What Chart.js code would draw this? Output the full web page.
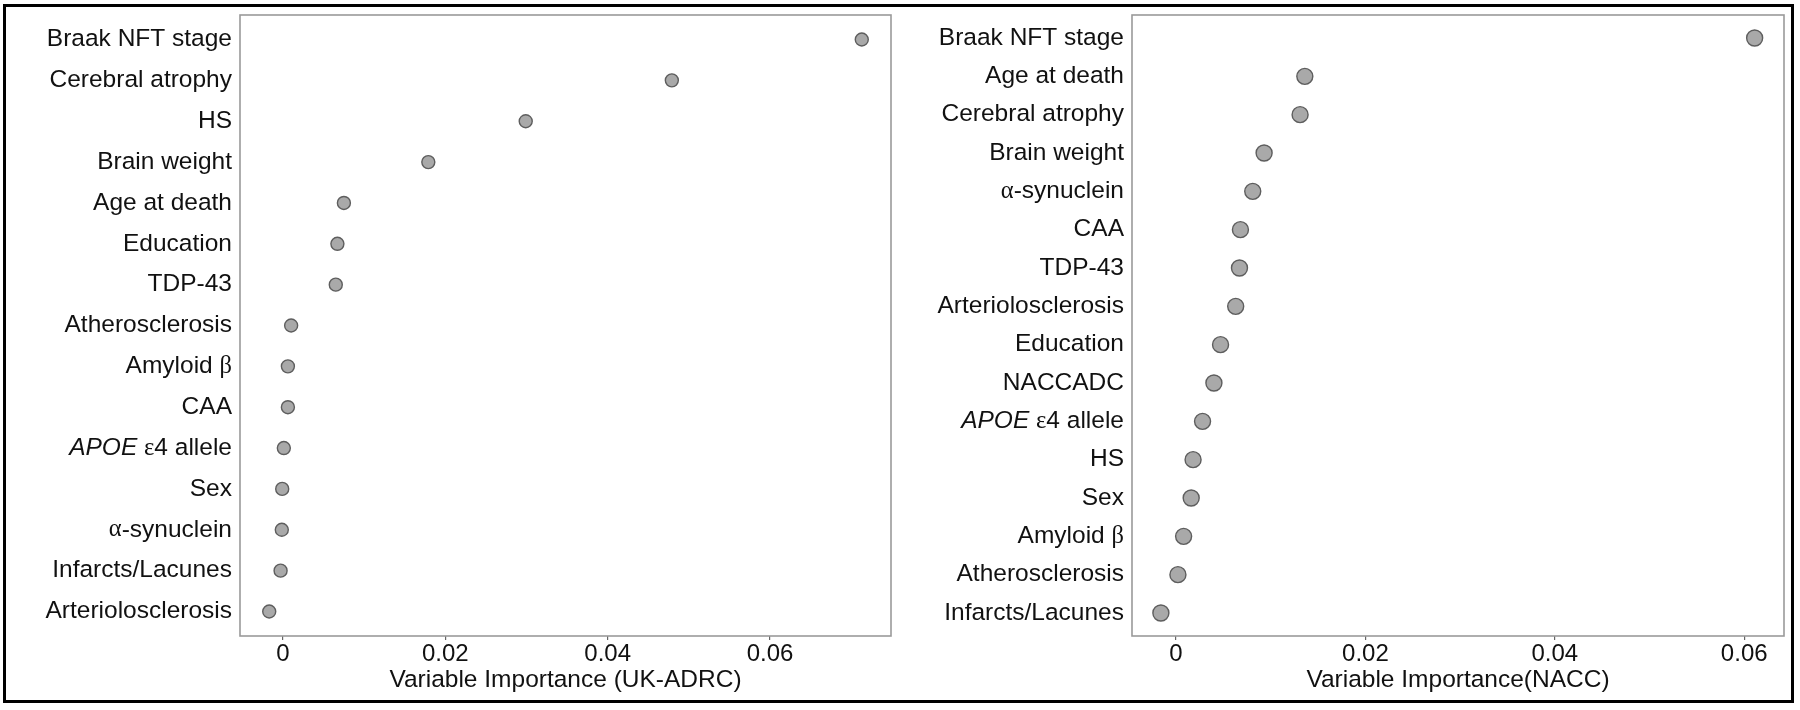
<!DOCTYPE html>
<html lang="en">
<head>
    <meta charset="UTF-8">
    <title>Variable Importance</title>
    <style>
        body {
            margin: 0;
            background: #fff;
            width: 1800px;
            height: 710px;
            position: relative;
            overflow: hidden;
        }
        #frame {
            position: absolute;
            left: 3px;
            top: 4px;
            width: 1791px;
            height: 699px;
            box-sizing: border-box;
            border: 3px solid #000;
        }
        .panel {
            position: absolute;
            top: 0;
            width: 900px;
            height: 710px;
        }
        #left { left: 0; }
        #right { left: 900px; }
    </style>
    <script src="https://cdn.jsdelivr.net/npm/chart.js"></script>
</head>
<body>
    <div id="frame"></div>
    <div class="panel" id="left"><canvas id="ukChart"></canvas></div>
    <div class="panel" id="right"><canvas id="naccChart"></canvas></div>
    <script>
        // UK-ADRC panel (top to bottom)
        const ukLabels = ['Braak NFT stage', 'Cerebral atrophy', 'HS', 'Brain weight', 'Age at death',
            'Education', 'TDP-43', 'Atherosclerosis', 'Amyloid β', 'CAA', 'APOE ε4 allele', 'Sex',
            'α-synuclein', 'Infarcts/Lacunes', 'Arteriolosclerosis'];
        const ukValues = [0.0713, 0.0479, 0.0299, 0.0179, 0.0075, 0.0067, 0.0065, 0.0010, 0.0006,
            0.0006, 0.0001, -0.0001, -0.00015, -0.0003, -0.0017];

        // NACC panel (top to bottom)
        const naccLabels = ['Braak NFT stage', 'Age at death', 'Cerebral atrophy', 'Brain weight', 'α-synuclein',
            'CAA', 'TDP-43', 'Arteriolosclerosis', 'Education', 'NACCADC', 'APOE ε4 allele', 'HS', 'Sex',
            'Amyloid β', 'Atherosclerosis', 'Infarcts/Lacunes'];
        const naccValues = [0.0611, 0.0136, 0.0131, 0.0093, 0.0081, 0.0068, 0.0067, 0.0063, 0.0047,
            0.0040, 0.0028, 0.0018, 0.0016, 0.0008, 0.0002, -0.0016];

        const xTicks = [0, 0.02, 0.04, 0.06];
        const xTickLabels = ['0', '0.02', '0.04', '0.06'];

        const FONT = '"Liberation Sans", Arial, sans-serif';
        const SERIF = '"Liberation Serif", "Times New Roman", serif';
        const TEXT = '#111';

        // box round the plot area
        const boxPlugin = {
            id: 'box',
            beforeDatasetsDraw(chart) {
                const a = chart.chartArea;
                const c = chart.ctx;
                c.save();
                c.strokeStyle = '#9a9a9a';
                c.lineWidth = 1.6;
                c.strokeRect(a.left, a.top, a.right - a.left, a.bottom - a.top);
                c.restore();
            }
        };

        // y labels: APOE in italics, greek letters in a serif face
        function drawLabel(c, text, xRight, y, size) {
            const parts = [];
            let rest = text;
            if (rest.startsWith('APOE')) {
                parts.push({ t: 'APOE', f: 'italic ' + size + 'px ' + FONT });
                rest = rest.slice(4);
            }
            let buf = '';
            for (const ch of rest) {
                if ('αβε'.includes(ch)) {
                    if (buf) parts.push({ t: buf, f: size + 'px ' + FONT });
                    buf = '';
                    parts.push({ t: ch, f: size + 'px ' + SERIF });
                } else {
                    buf += ch;
                }
            }
            if (buf) parts.push({ t: buf, f: size + 'px ' + FONT });

            let total = 0;
            parts.forEach(p => { c.font = p.f; p.w = c.measureText(p.t).width; total += p.w; });
            let x = xRight - total;
            parts.forEach(p => {
                c.font = p.f;
                c.fillText(p.t, x, y);
                x += p.w;
            });
        }

        const labelPlugin = {
            id: 'rowLabels',
            afterDraw(chart) {
                const labels = chart.options.plugins.rowLabels.labels;
                const yScale = chart.scales.y;
                const c = chart.ctx;
                c.save();
                c.fillStyle = TEXT;
                c.textBaseline = 'middle';
                labels.forEach((lab, i) => {
                    drawLabel(c, lab, chart.chartArea.left - 8, yScale.getPixelForValue(i + 1), 24.5);
                });
                c.restore();
            }
        };

        function makeChart(id, labels, values, xmin, xmax, yWidth, rightPad, radius, title) {
            const points = values.map((v, i) => ({ x: v, y: i + 1 }));
            return new Chart(document.getElementById(id), {
                type: 'scatter',
                data: {
                    datasets: [{
                        data: points,
                        pointRadius: radius,
                        pointHoverRadius: radius,
                        backgroundColor: '#a9a9a9',
                        borderColor: '#5e5e5e',
                        borderWidth: 1.4
                    }]
                },
                options: {
                    responsive: true,
                    maintainAspectRatio: false,
                    animation: false,
                    layout: { padding: { top: 15, right: rightPad, bottom: 0, left: 0 } },
                    plugins: {
                        legend: { display: false },
                        tooltip: { enabled: false },
                        rowLabels: { labels: labels }
                    },
                    scales: {
                        x: {
                            type: 'linear',
                            min: xmin,
                            max: xmax,
                            afterBuildTicks: s => { s.ticks = xTicks.map(v => ({ value: v })); },
                            afterFit: s => { s.height = 74; },
                            ticks: {
                                callback: (v) => {
                                    const k = xTicks.findIndex(t => Math.abs(t - v) < 1e-9);
                                    return k >= 0 ? xTickLabels[k] : '';
                                },
                                font: { family: FONT, size: 24 },
                                color: TEXT,
                                padding: 0,
                                maxRotation: 0
                            },
                            grid: {
                                drawOnChartArea: false,
                                tickLength: 4,
                                color: '#666',
                                lineWidth: 1.2
                            },
                            border: { display: false },
                            title: {
                                display: true,
                                text: title,
                                font: { family: FONT, size: 24.5 },
                                color: TEXT,
                                padding: { top: 0, bottom: 15 }
                            }
                        },
                        y: {
                            type: 'linear',
                            reverse: true,
                            min: 0.4,
                            max: labels.length + 0.6,
                            afterFit: s => { s.width = yWidth; },
                            ticks: { display: false },
                            grid: { display: false },
                            border: { display: false }
                        }
                    }
                },
                plugins: [boxPlugin, labelPlugin]
            });
        }

        makeChart('ukChart', ukLabels, ukValues, -0.0053, 0.0749, 240, 9, 6.5,
            'Variable Importance (UK-ADRC)');
        makeChart('naccChart', naccLabels, naccValues, -0.00465, 0.0642, 232, 16, 8,
            'Variable Importance(NACC)');
    </script>
</body>
</html>
